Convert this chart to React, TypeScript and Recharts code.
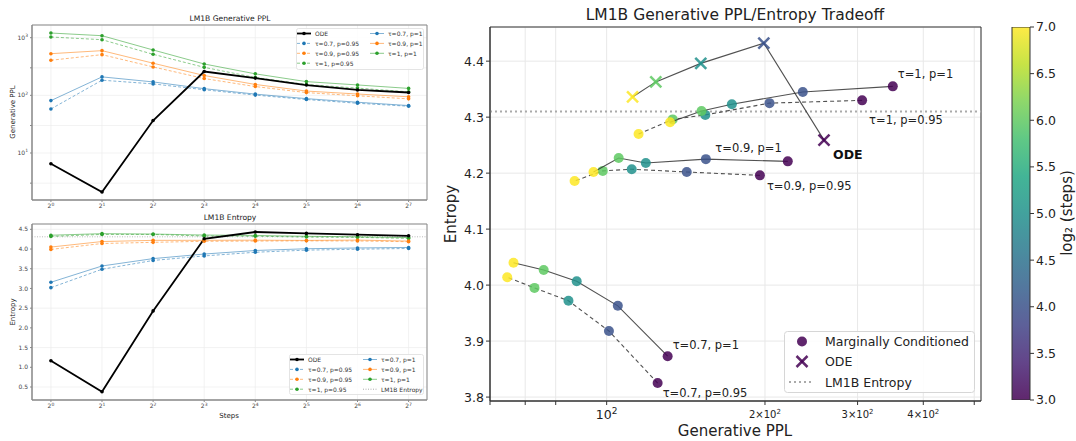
import React from "react";
import {
  LineChart,
  Line,
  XAxis,
  YAxis,
  CartesianGrid,
  ReferenceLine,
  ReferenceArea,
  ScatterChart,
  Scatter,
  BarChart,
  Bar,
} from "recharts";

const FONT = "'DejaVu Sans', sans-serif";

// log2(steps): 1, 2, 4, ... 128 steps
const stepExp = [0, 1, 2, 3, 4, 5, 6, 7];

// generative PPL
const pplOde = [6.5, 2.1, 36.6, 259, 199, 151, 124, 112];
const pplT07P095 = [58, 183, 158, 125, 101, 84.6, 72.9, 64.7];
const pplT09P095 = [406, 508, 311, 195.6, 142, 111.6, 98.3, 86.9];
const pplT1P095 = [1028, 923, 515, 306, 204, 154, 133.5, 115];
const pplT07P1 = [81, 209, 171, 130.6, 105, 87.7, 75.9, 66.5];
const pplT09P1 = [528, 596, 361, 221, 154.4, 118.7, 105.4, 94.4];
const pplT1P1 = [1205, 1083, 612, 350, 236, 173, 151.5, 132];

// entropy
const entOde = [1.167, 0.38, 2.43, 4.259, 4.432, 4.396, 4.363, 4.336];
const entT07P095 = [3.02, 3.487, 3.71, 3.825, 3.918, 3.972, 3.995, 4.014];
const entT09P095 = [3.99, 4.14, 4.17, 4.196, 4.202, 4.207, 4.204, 4.186];
const entT1P095 = [4.32, 4.37, 4.37, 4.33, 4.325, 4.304, 4.296, 4.27];
const entT07P1 = [3.157, 3.57, 3.757, 3.873, 3.963, 4.007, 4.027, 4.04];
const entT09P1 = [4.05, 4.19, 4.22, 4.221, 4.225, 4.218, 4.227, 4.202];
const entT1P1 = [4.35, 4.39, 4.38, 4.355, 4.345, 4.323, 4.311, 4.291];

const lm1bEntropy = 4.31;

// axis ticks
const pplLogTicks = [2, 3, 4, 5, 6, 7, 8, 9, 10, 20, 30, 40, 50, 60, 70, 80, 90, 100, 200, 300, 400, 500, 600, 700, 800, 900, 1000];
const entTicks = [0.5, 1.0, 1.5, 2.0, 2.5, 3.0, 3.5, 4.0, 4.5];
const tradeXTicks = [60, 70, 80, 90, 100, 200, 300, 400, 500];
const tradeYTicks = [3.8, 3.9, 4.0, 4.1, 4.2, 4.3, 4.4];
const cbarTicks = [3.0, 3.5, 4.0, 4.5, 5.0, 5.5, 6.0, 6.5, 7.0];
const cbarRange = [3, 7];

const series = [
  { key: "t07p095", name: "τ=0.7, p=0.95", color: "#1f77b4", dashed: true, ppl: pplT07P095, ent: entT07P095, lab: { dx: 5, dy: 10, anchor: "start" } },
  { key: "t09p095", name: "τ=0.9, p=0.95", color: "#ff7f0e", dashed: true, ppl: pplT09P095, ent: entT09P095, lab: { dx: 7, dy: 11, anchor: "start" } },
  { key: "t1p095", name: "τ=1, p=0.95", color: "#2ca02c", dashed: true, ppl: pplT1P095, ent: entT1P095, lab: { dx: 7, dy: 20, anchor: "start" } },
  { key: "t07p1", name: "τ=0.7, p=1", color: "#1f77b4", dashed: false, ppl: pplT07P1, ent: entT07P1, lab: { dx: 5, dy: -11, anchor: "start" } },
  { key: "t09p1", name: "τ=0.9, p=1", color: "#ff7f0e", dashed: false, ppl: pplT09P1, ent: entT09P1, lab: { dx: -6, dy: -13, anchor: "end" } },
  { key: "t1p1", name: "τ=1, p=1", color: "#2ca02c", dashed: false, ppl: pplT1P1, ent: entT1P1, lab: { dx: 5, dy: -12, anchor: "start" } },
];

const viridis: Record<number, string> = { 3: "#440154", 4: "#3b528b", 5: "#21918c", 6: "#5ec962", 7: "#fde725" };

const pplRows = stepExp.map((s, i) => {
  const row: any = { s, ode: pplOde[i] };
  series.forEach((se) => (row[se.key] = se.ppl[i]));
  return row;
});
const entRows = stepExp.map((s, i) => {
  const row: any = { s, ode: entOde[i] };
  series.forEach((se) => (row[se.key] = se.ent[i]));
  return row;
});

const tradeData = (ppl: number[], ent: number[]) =>
  stepExp.slice(3).map((e, j) => ({ exp: e, ppl: ppl[j + 3], ent: ent[j + 3] }));

const PowTick = (p: any) => (
  <text x={p.x} y={p.y + 5} textAnchor="middle" fontSize={6} fill="#444">
    2<tspan dy={-2.5} fontSize={4.5}>{p.payload.value}</tspan>
  </text>
);

const LogTick = (p: any) => {
  const v = p.payload.value;
  const e = Math.round(Math.log10(v));
  if (Math.abs(Math.log10(v) - e) > 1e-6) return <g />;
  return (
    <text x={p.x} y={p.y + 2} textAnchor="end" fontSize={6} fill="#444">
      10<tspan dy={-2.5} fontSize={4.5}>{e}</tspan>
    </text>
  );
};

const PplTick = (p: any) => {
  const m = Math.round(p.payload.value / 100);
  if (p.payload.value % 100 !== 0 || m > 4) return <g />;
  if (m === 1)
    return (
      <text x={p.x} y={p.y + 12} textAnchor="middle" fontSize={12.5} fill="#222">
        10<tspan dy={-5} fontSize={9}>2</tspan>
      </text>
    );
  return (
    <text x={p.x} y={p.y + 11} textAnchor="middle" fontSize={10} fill="#222">
      {m}×10<tspan dy={-4} fontSize={7}>2</tspan>
    </text>
  );
};

const Txt = ({ x, y, size, rotate = 0, bold = false, children }: any) => (
  <div
    style={{
      position: "absolute",
      left: x,
      top: y,
      transform: `translate(-50%, -50%) rotate(${rotate}deg)`,
      fontSize: size,
      fontWeight: bold ? "bold" : "normal",
      whiteSpace: "nowrap",
      lineHeight: 1,
      color: "#222",
    }}
  >
    {children}
  </div>
);

type LegItem = { label: string; color: string; dash?: string; marker?: boolean; w?: number; op?: number };

const MiniLegend = ({ left, top, w, h, cols }: { left: number; top: number; w: number; h: number; cols: { x: number; items: LegItem[] }[] }) => (
  <svg style={{ position: "absolute", left, top }} width={w} height={h}>
    <rect x={0.5} y={0.5} width={w - 1} height={h - 1} rx={2} fill="#fff" fillOpacity={0.85} stroke="#ddd" strokeWidth={0.8} />
    {cols.map((c, ci) =>
      c.items.map((it, i) => {
        const y = 5.5 + i * 9.9;
        return (
          <g key={ci + "-" + i}>
            <line x1={c.x} x2={c.x + 14} y1={y} y2={y} stroke={it.color} strokeWidth={it.w || 1} strokeOpacity={it.op ?? 0.55} strokeDasharray={it.dash} />
            {it.marker && <circle cx={c.x + 7} cy={y} r={1.8} fill={it.color} />}
            <text x={c.x + 18} y={y} dominantBaseline="central" fontSize={6} fill="#333">
              {it.label}
            </text>
          </g>
        );
      })
    )}
  </svg>
);

const odeLeg: LegItem = { label: "ODE", color: "#000", marker: true, w: 1.8, op: 1 };
const legP095 = series.filter((s) => s.dashed).map((s) => ({ label: s.name, color: s.color, dash: "3 2", marker: true }));
const legP1 = series.filter((s) => !s.dashed).map((s) => ({ label: s.name, color: s.color, marker: true }));

const seriesLines = () =>
  [
    ...series.map((se) => (
      <Line
        key={se.key}
        dataKey={se.key}
        type="linear"
        stroke={se.color}
        strokeOpacity={0.55}
        strokeWidth={1}
        strokeDasharray={se.dashed ? "3 2" : undefined}
        dot={{ r: 1.8, fill: se.color, stroke: "none", strokeDasharray: "" }}
        isAnimationActive={false}
      />
    )),
    <Line
      key="ode"
      dataKey="ode"
      type="linear"
      stroke="#000"
      strokeWidth={1.8}
      dot={{ r: 1.8, fill: "#000", stroke: "none" }}
      isAnimationActive={false}
    />,
  ];

const circleShape = (lab?: { text: string; dx: number; dy: number; anchor: string }) => (props: any) => {
  const { cx, cy, payload } = props;
  return (
    <g>
      <circle cx={cx} cy={cy} r={5} fill={viridis[payload.exp]} fillOpacity={0.85} />
      {lab && payload.exp === 3 && (
        <text x={cx + lab.dx} y={cy + lab.dy} textAnchor={lab.anchor as any} dominantBaseline="central" fontSize={11.5} fill="#222">
          {lab.text}
        </text>
      )}
    </g>
  );
};

const crossShape = (props: any) => {
  const { cx, cy, payload } = props;
  const c = viridis[payload.exp];
  const d = 5.5;
  return (
    <g stroke={c} strokeWidth={2.5} strokeOpacity={0.85}>
      <line x1={cx - d} y1={cy - d} x2={cx + d} y2={cy + d} />
      <line x1={cx - d} y1={cy + d} x2={cx + d} y2={cy - d} />
      {payload.exp === 3 && (
        <text x={cx + 9} y={cy + 14} dominantBaseline="central" fontSize={12.5} fontWeight="bold" fill="#111" stroke="none">
          ODE
        </text>
      )}
    </g>
  );
};

export default function App() {
  const smallTick = { fontSize: 6, fill: "#444" };
  return (
    <div style={{ position: "absolute", left: 0, top: 0, width: 1076, height: 441, background: "#fff", fontFamily: FONT, overflow: "hidden" }}>
      {/* top left: generative PPL vs steps */}
      <div style={{ position: "absolute", left: 0, top: 0 }}>
        <LineChart width={440} height={215} data={pplRows} margin={{ top: 25, right: 13, bottom: 0, left: 0 }}>
          <CartesianGrid stroke="#ececec" strokeWidth={0.7} />
          <XAxis dataKey="s" type="number" domain={[-0.37, 7.36]} ticks={stepExp} tick={<PowTick />} height={15} tickSize={2} tickMargin={1} stroke="#888" allowDataOverflow />
          <YAxis type="number" scale="log" domain={[1.53, 1660]} ticks={pplLogTicks} tick={<LogTick />} width={32} tickSize={2} tickMargin={2} stroke="#888" allowDataOverflow />
          <ReferenceArea x1={-0.37} x2={7.36} y1={1.53} y2={1660} fill="none" stroke="#888" strokeWidth={1} />
          {seriesLines()}
        </LineChart>
      </div>
      <Txt x={230} y={19} size={7.6}>LM1B Generative PPL</Txt>
      <Txt x={13} y={112} size={7} rotate={-90}>Generative PPL</Txt>
      <MiniLegend left={296} top={28} w={128} h={42} cols={[{ x: 1, items: [odeLeg, ...legP095] }, { x: 74, items: legP1 }]} />

      {/* bottom left: entropy vs steps */}
      <div style={{ position: "absolute", left: 0, top: 210 }}>
        <LineChart width={440} height={210} data={entRows} margin={{ top: 14, right: 13, bottom: 0, left: 0 }}>
          <CartesianGrid stroke="#ececec" strokeWidth={0.7} />
          <XAxis dataKey="s" type="number" domain={[-0.37, 7.36]} ticks={stepExp} tick={<PowTick />} height={20} tickSize={2} tickMargin={1} stroke="#888" allowDataOverflow />
          <YAxis type="number" domain={[0.17, 4.635]} ticks={entTicks} tick={smallTick} tickFormatter={(v: number) => v.toFixed(1)} width={32} tickSize={2} tickMargin={2} stroke="#888" allowDataOverflow />
          <ReferenceArea x1={-0.37} x2={7.36} y1={0.17} y2={4.635} fill="none" stroke="#888" strokeWidth={1} />
          <ReferenceLine y={lm1bEntropy} stroke="#aaa" strokeDasharray="1 1.5" strokeWidth={0.8} />
          {seriesLines()}
        </LineChart>
      </div>
      <Txt x={230} y={218} size={7.6}>LM1B Entropy</Txt>
      <Txt x={13} y={312} size={7} rotate={-90}>Entropy</Txt>
      <Txt x={229} y={416} size={7}>Steps</Txt>
      <MiniLegend
        left={289}
        top={354}
        w={135}
        h={41}
        cols={[
          { x: 1, items: [odeLeg, ...legP095] },
          { x: 74, items: [...legP1, { label: "LM1B Entropy", color: "#aaa", dash: "1 1.5", op: 1 }] },
        ]}
      />

      {/* right: PPL / entropy tradeoff */}
      <div style={{ position: "absolute", left: 440, top: 0 }}>
        <ScatterChart width={560} height={441} margin={{ top: 27, right: 19, bottom: 0, left: 0 }}>
          <CartesianGrid stroke="#e8e8e8" />
          <XAxis type="number" dataKey="ppl" scale="log" domain={[60, 515]} ticks={tradeXTicks} tick={<PplTick />} height={40} tickSize={4} stroke="#333" allowDataOverflow />
          <YAxis
            type="number"
            dataKey="ent"
            domain={[3.793, 4.461]}
            ticks={tradeYTicks}
            tick={{ fontSize: 12.5, fill: "#222" }}
            tickFormatter={(v: number) => v.toFixed(1)}
            width={50}
            tickSize={4}
            stroke="#333"
            allowDataOverflow
          />
          <ReferenceLine y={lm1bEntropy} stroke="#aaa" strokeDasharray="2 3" strokeWidth={2} />
          {series.map((se) => (
            <Scatter
              key={se.key}
              data={tradeData(se.ppl, se.ent)}
              line={{ stroke: "#333", strokeOpacity: 0.85, strokeWidth: 1.1, strokeDasharray: se.dashed ? "4 3" : undefined }}
              lineType="joint"
              shape={circleShape({ text: se.name, dx: se.lab.dx, dy: se.lab.dy, anchor: se.lab.anchor })}
              isAnimationActive={false}
            />
          ))}
          <Scatter
            data={tradeData(pplOde, entOde)}
            line={{ stroke: "#333", strokeOpacity: 0.85, strokeWidth: 1.1 }}
            lineType="joint"
            shape={crossShape}
            isAnimationActive={false}
          />
          <ReferenceArea x1={60} x2={515} y1={3.793} y2={4.461} fill="none" stroke="#333" strokeWidth={1} />
        </ScatterChart>
      </div>
      <Txt x={735} y={16} size={15.5}>LM1B Generative PPL/Entropy Tradeoff</Txt>
      <Txt x={451} y={214} size={15} rotate={-90}>Entropy</Txt>
      <Txt x={735} y={431} size={15}>Generative PPL</Txt>
      <svg style={{ position: "absolute", left: 784, top: 331 }} width={191} height={62}>
        <rect x={0.5} y={0.5} width={190} height={61} rx={3} fill="#fff" fillOpacity={0.85} stroke="#d6d6d6" />
        <circle cx={18} cy={10.5} r={5} fill={viridis[3]} fillOpacity={0.85} />
        <g stroke={viridis[3]} strokeWidth={2.5} strokeOpacity={0.85}>
          <line x1={12.5} y1={25} x2={23.5} y2={36} />
          <line x1={12.5} y1={36} x2={23.5} y2={25} />
        </g>
        <line x1={5} x2={29} y1={51} y2={51} stroke="#aaa" strokeWidth={2} strokeDasharray="2 3" />
        <text x={41} y={10.5} dominantBaseline="central" fontSize={12.5} fill="#222">Marginally Conditioned</text>
        <text x={41} y={30.5} dominantBaseline="central" fontSize={12.5} fill="#222">ODE</text>
        <text x={41} y={51} dominantBaseline="central" fontSize={12.5} fill="#222">LM1B Entropy</text>
      </svg>

      {/* colorbar */}
      <div style={{ position: "absolute", left: 1000, top: 0 }}>
        <BarChart width={76} height={441} data={[{ name: "steps", range: cbarRange }]} margin={{ top: 27, right: 0, bottom: 41, left: 12 }} barCategoryGap={0}>
          <defs>
            <linearGradient id="viridisBar" x1="0" y1="1" x2="0" y2="0">
              <stop offset="0" stopColor="#440154" />
              <stop offset="0.1" stopColor="#482475" />
              <stop offset="0.2" stopColor="#414487" />
              <stop offset="0.3" stopColor="#355f8d" />
              <stop offset="0.4" stopColor="#2a788e" />
              <stop offset="0.5" stopColor="#21918c" />
              <stop offset="0.6" stopColor="#22a884" />
              <stop offset="0.7" stopColor="#44bf70" />
              <stop offset="0.8" stopColor="#7ad151" />
              <stop offset="0.9" stopColor="#bddf26" />
              <stop offset="1" stopColor="#fde725" />
            </linearGradient>
          </defs>
          <XAxis dataKey="name" hide />
          <YAxis
            orientation="right"
            type="number"
            domain={[3, 7]}
            ticks={cbarTicks}
            tick={{ fontSize: 12.5, fill: "#222" }}
            tickFormatter={(v: number) => v.toFixed(1)}
            width={46}
            tickSize={4}
            stroke="#333"
            axisLine={false}
            allowDataOverflow
          />
          <Bar dataKey="range" fill="url(#viridisBar)" fillOpacity={0.85} stroke="#333" strokeWidth={1} isAnimationActive={false} />
        </BarChart>
      </div>
      <Txt x={1067} y={213} size={15} rotate={-90}>log₂ (steps)</Txt>
    </div>
  );
}
